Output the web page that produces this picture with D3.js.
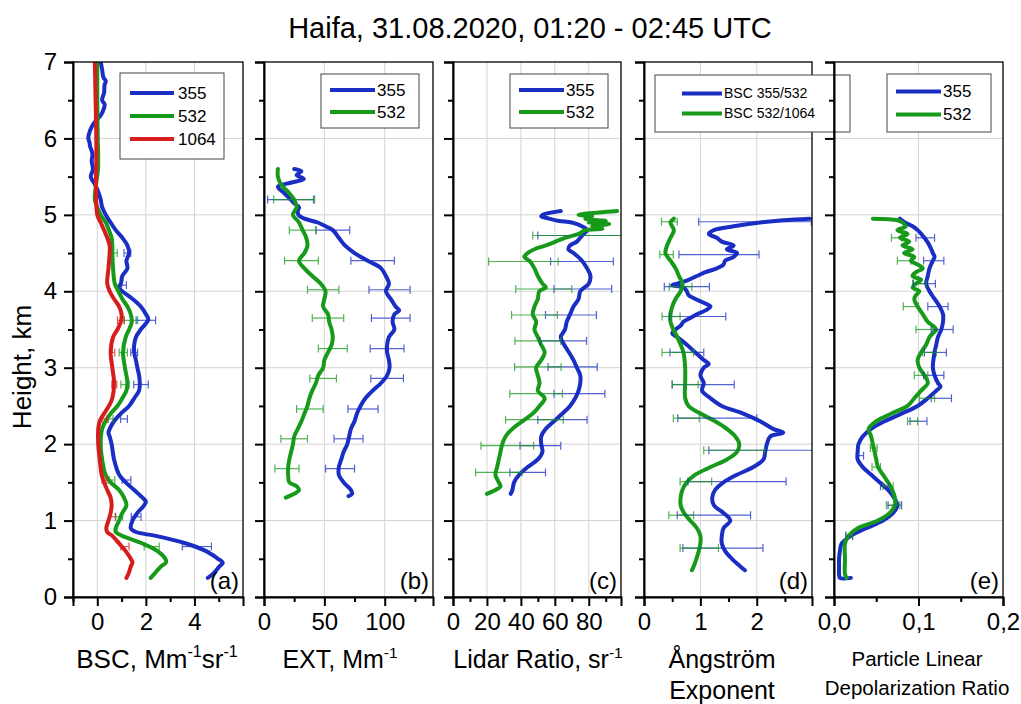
<!DOCTYPE html>
<html lang="en">
<head>
<meta charset="UTF-8" />
<title>Haifa lidar profiles</title>
<script src="https://cdn.jsdelivr.net/npm/d3@7"></script>
<style>
  body { margin: 0; background: #fff; }
  text { font-family: "Liberation Sans", Arial, sans-serif; fill: #000; }
</style>
</head>
<body>
<svg id="chart" width="1021" height="704"></svg>
<script>
// ---- profiles: [height km, value] ----
const bsc355 = [[7.0,0.14],[6.9,0.2],[6.8,0.25],[6.75,0.35],[6.7,0.3],[6.6,0.28],[6.5,0.2],[6.45,0.3],[6.4,0.28],[6.3,0.14],[6.2,-0.14],[6.1,-0.3],[6.0,-0.37],[5.95,-0.32],[5.9,-0.3],[5.8,-0.2],[5.7,-0.23],[5.6,-0.18],[5.5,-0.27],[5.45,-0.2],[5.4,-0.1],[5.3,0.04],[5.2,0.14],[5.1,0.2],[5.0,0.35],[4.9,0.55],[4.8,0.76],[4.7,1.03],[4.6,1.24],[4.5,1.31],[4.4,1.2],[4.3,1.24],[4.2,1.03],[4.1,0.97],[4.05,0.87],[4.0,1.03],[3.9,1.45],[3.8,1.79],[3.7,2.0],[3.63,2.1],[3.5,1.79],[3.4,1.59],[3.3,1.52],[3.2,1.52],[3.1,1.59],[3.0,1.65],[2.9,1.72],[2.8,1.75],[2.7,1.72],[2.6,1.52],[2.5,1.31],[2.4,0.97],[2.3,0.69],[2.2,0.51],[2.15,0.46],[2.1,0.51],[2.0,0.59],[1.8,0.69],[1.6,0.9],[1.5,1.17],[1.4,1.52],[1.3,1.86],[1.25,2.0],[1.2,1.93],[1.1,1.65],[1.0,1.45],[0.9,1.38],[0.85,1.59],[0.8,2.41],[0.7,3.66],[0.6,4.48],[0.5,4.97],[0.45,5.17],[0.4,5.03],[0.3,4.76],[0.25,4.55]];
const bsc532 = [[7.0,0.0],[6.5,0.0],[6.0,0.02],[5.6,0.03],[5.4,-0.05],[5.2,-0.1],[5.1,0.0],[5.0,0.14],[4.9,0.35],[4.8,0.48],[4.7,0.59],[4.6,0.62],[4.5,0.62],[4.3,0.65],[4.1,0.72],[4.0,0.87],[3.9,1.03],[3.8,1.24],[3.7,1.38],[3.6,1.42],[3.5,1.31],[3.4,1.17],[3.2,1.06],[3.0,1.14],[2.8,1.24],[2.7,1.2],[2.6,1.03],[2.5,0.83],[2.4,0.55],[2.3,0.34],[2.2,0.2],[2.0,0.14],[1.8,0.2],[1.6,0.34],[1.5,0.55],[1.4,0.9],[1.3,1.1],[1.2,1.2],[1.1,1.03],[1.0,0.9],[0.9,0.76],[0.85,0.76],[0.8,1.03],[0.7,1.86],[0.6,2.48],[0.5,2.8],[0.45,2.83],[0.4,2.62],[0.3,2.34],[0.25,2.2]];
const bsc1064 = [[7.0,-0.1],[6.0,-0.04],[5.0,0.0],[4.9,0.14],[4.8,0.28],[4.7,0.41],[4.6,0.51],[4.5,0.51],[4.3,0.46],[4.1,0.41],[4.0,0.51],[3.9,0.69],[3.8,0.9],[3.7,1.0],[3.6,0.97],[3.5,0.83],[3.4,0.65],[3.2,0.55],[3.0,0.62],[2.8,0.69],[2.6,0.62],[2.5,0.48],[2.4,0.28],[2.3,0.1],[2.2,0.04],[2.0,0.04],[1.8,0.1],[1.6,0.18],[1.5,0.28],[1.4,0.41],[1.3,0.55],[1.2,0.59],[1.1,0.55],[1.0,0.46],[0.9,0.37],[0.85,0.41],[0.8,0.62],[0.7,0.9],[0.6,1.17],[0.5,1.38],[0.45,1.45],[0.4,1.38],[0.3,1.28],[0.25,1.2]];

const ext355 = [[5.6,25],[5.57,31],[5.52,27],[5.47,33],[5.42,22],[5.37,11.5],[5.3,15.6],[5.22,21],[5.15,25],[5.1,29],[5.05,28],[5.0,28.5],[4.95,33.5],[4.9,44.5],[4.85,51],[4.8,57],[4.7,62],[4.6,67],[4.5,75],[4.4,86],[4.3,97],[4.2,101],[4.1,103.5],[4.0,101],[3.9,105],[3.8,109],[3.75,112],[3.7,108],[3.6,106.5],[3.5,108],[3.4,103.5],[3.3,102],[3.2,102],[3.1,103.5],[3.0,104],[2.9,102],[2.8,97],[2.7,90],[2.6,84],[2.5,80],[2.4,77],[2.3,75],[2.2,72],[2.0,69],[1.9,66],[1.8,64],[1.7,62],[1.6,62],[1.5,66],[1.4,72],[1.35,73],[1.32,70]];
const ext532 = [[5.6,11.5],[5.5,11.5],[5.4,14],[5.3,20],[5.2,25],[5.1,27],[5.0,24],[4.9,29],[4.8,32],[4.7,35],[4.6,36],[4.5,33.5],[4.4,29],[4.3,33.5],[4.2,40],[4.1,47],[4.0,51],[3.9,50],[3.8,49],[3.7,53],[3.6,54],[3.5,56],[3.4,57],[3.3,56],[3.2,53],[3.1,50],[3.0,49],[2.9,45],[2.8,43],[2.7,40],[2.6,37.6],[2.5,36],[2.4,33.5],[2.3,31],[2.2,28],[2.1,25],[2.0,24],[1.9,22.5],[1.8,21],[1.7,20],[1.6,20],[1.5,21],[1.45,27],[1.4,29],[1.35,25],[1.3,18]];

const lr355 = [[5.05,63.5],[5.0,52.7],[4.98,52],[4.95,56.6],[4.92,62.5],[4.9,70],[4.85,76],[4.8,79],[4.75,77],[4.7,75],[4.65,73],[4.6,69],[4.55,68],[4.5,71],[4.4,76],[4.3,79],[4.2,81],[4.1,80],[4.0,75],[3.9,74],[3.8,71],[3.7,69],[3.6,67],[3.5,66],[3.4,63.5],[3.3,65.5],[3.2,68.4],[3.1,71],[3.0,73],[2.9,75],[2.8,75],[2.7,74],[2.6,72],[2.5,69],[2.4,64.5],[2.3,59.5],[2.2,54.7],[2.1,52],[2.0,52],[1.9,52.7],[1.8,50],[1.7,44],[1.6,39],[1.5,36],[1.4,35],[1.35,34]];
const lr532 = [[5.05,96.7],[5.03,86],[5.0,74],[4.98,82],[4.95,78],[4.92,90],[4.9,80],[4.88,92],[4.85,82],[4.82,88],[4.8,78],[4.75,74],[4.7,66],[4.65,60.5],[4.6,54.7],[4.55,48],[4.5,44],[4.45,42],[4.4,45],[4.3,48],[4.2,50],[4.1,52.7],[4.05,54.7],[4.0,50.8],[3.9,50],[3.8,48],[3.7,47],[3.6,49],[3.5,48],[3.4,50],[3.3,52],[3.2,54],[3.1,52],[3.0,49],[2.9,50],[2.8,51],[2.7,50],[2.6,54],[2.5,51],[2.4,47],[2.3,41],[2.2,35],[2.1,31],[2.0,29],[1.9,28],[1.8,27],[1.7,26],[1.6,25],[1.5,27],[1.45,28],[1.4,25],[1.35,20]];

const ae355 = [[4.95,2.94],[4.93,2.47],[4.9,2.06],[4.85,1.59],[4.8,1.24],[4.75,1.15],[4.7,1.29],[4.65,1.38],[4.6,1.59],[4.55,1.47],[4.5,1.65],[4.45,1.59],[4.4,1.44],[4.35,1.41],[4.3,1.29],[4.25,1.09],[4.2,0.94],[4.15,0.79],[4.1,0.59],[4.08,0.5],[4.05,0.7],[4.0,0.76],[3.95,0.79],[3.9,0.91],[3.85,1.06],[3.8,1.18],[3.75,1.09],[3.7,0.94],[3.65,0.82],[3.6,0.7],[3.55,0.65],[3.5,0.56],[3.45,0.5],[3.4,0.59],[3.3,0.76],[3.2,0.91],[3.1,1.06],[3.05,1.15],[3.0,1.06],[2.9,1.0],[2.8,1.06],[2.7,1.03],[2.6,1.18],[2.5,1.38],[2.4,1.76],[2.3,2.06],[2.2,2.29],[2.15,2.47],[2.1,2.24],[2.0,2.18],[1.9,2.15],[1.8,2.12],[1.7,1.94],[1.6,1.65],[1.5,1.41],[1.4,1.26],[1.3,1.21],[1.2,1.24],[1.1,1.41],[1.0,1.53],[0.9,1.41],[0.8,1.38],[0.7,1.38],[0.6,1.44],[0.5,1.56],[0.4,1.71],[0.35,1.79]];
const ae532 = [[4.95,0.53],[4.9,0.47],[4.8,0.53],[4.7,0.47],[4.6,0.41],[4.5,0.38],[4.4,0.47],[4.3,0.56],[4.2,0.62],[4.1,0.68],[4.0,0.65],[3.9,0.56],[3.8,0.5],[3.7,0.47],[3.6,0.47],[3.5,0.52],[3.4,0.59],[3.3,0.65],[3.2,0.7],[3.0,0.73],[2.8,0.73],[2.6,0.73],[2.5,0.79],[2.4,1.0],[2.3,1.26],[2.2,1.47],[2.1,1.62],[2.0,1.69],[1.9,1.65],[1.8,1.47],[1.7,1.18],[1.6,0.91],[1.5,0.76],[1.4,0.68],[1.3,0.65],[1.2,0.65],[1.1,0.71],[1.0,0.82],[0.9,0.94],[0.8,1.0],[0.7,1.0],[0.6,0.97],[0.5,0.93],[0.4,0.88],[0.35,0.85]];

const pldr355 = [[4.95,0.078],[4.9,0.084],[4.85,0.093],[4.8,0.099],[4.7,0.107],[4.6,0.113],[4.5,0.117],[4.45,0.119],[4.4,0.117],[4.3,0.113],[4.2,0.111],[4.1,0.109],[4.0,0.113],[3.9,0.119],[3.8,0.125],[3.7,0.129],[3.6,0.129],[3.5,0.127],[3.4,0.123],[3.3,0.121],[3.2,0.119],[3.0,0.117],[2.9,0.119],[2.8,0.123],[2.75,0.126],[2.7,0.121],[2.6,0.111],[2.5,0.099],[2.4,0.08],[2.3,0.06],[2.2,0.044],[2.1,0.034],[2.0,0.029],[1.9,0.028],[1.8,0.028],[1.7,0.034],[1.6,0.044],[1.5,0.054],[1.4,0.064],[1.3,0.071],[1.2,0.075],[1.1,0.07],[1.0,0.058],[0.9,0.038],[0.8,0.02],[0.7,0.009],[0.6,0.007],[0.5,0.006],[0.4,0.006],[0.3,0.006],[0.25,0.007],[0.25,0.02]];
const pldr532 = [[4.95,0.046],[4.93,0.075],[4.9,0.081],[4.85,0.085],[4.8,0.075],[4.75,0.087],[4.7,0.078],[4.65,0.089],[4.6,0.081],[4.55,0.093],[4.5,0.083],[4.45,0.095],[4.4,0.091],[4.35,0.099],[4.3,0.105],[4.25,0.097],[4.2,0.093],[4.15,0.103],[4.1,0.097],[4.05,0.093],[4.0,0.101],[3.95,0.097],[3.9,0.095],[3.8,0.099],[3.7,0.105],[3.6,0.111],[3.55,0.117],[3.5,0.121],[3.45,0.117],[3.4,0.113],[3.3,0.109],[3.2,0.103],[3.1,0.099],[3.0,0.101],[2.9,0.107],[2.8,0.111],[2.7,0.103],[2.6,0.095],[2.5,0.087],[2.4,0.068],[2.3,0.05],[2.2,0.041],[2.1,0.044],[2.0,0.046],[1.9,0.048],[1.8,0.05],[1.7,0.052],[1.6,0.058],[1.5,0.064],[1.4,0.069],[1.3,0.072],[1.2,0.072],[1.1,0.066],[1.0,0.052],[0.9,0.028],[0.8,0.017],[0.7,0.013],[0.5,0.013],[0.3,0.013],[0.25,0.015]];

// ---- error bars: [height km, value, half width] ----
const bscErr355 = [[4.5,1.24,0.14],[4.08,1.1,0.1],[3.62,2.0,0.4],[3.2,1.52,0.14],[2.78,1.8,0.3],[2.33,1.1,0.14],[1.53,1.2,0.18],[1.05,1.6,0.2],[0.66,4.1,0.6]];
const bscErr532 = [[4.5,0.72,0.1],[3.62,1.38,0.28],[3.2,1.07,0.17],[2.78,1.14,0.17],[2.33,0.55,0.1],[1.53,0.6,0.12],[1.05,0.9,0.14],[0.66,2.24,0.31]];
const bscErr1064 = [[3.62,0.97,0.14],[3.2,0.62,0.1],[2.78,0.7,0.1],[2.33,0.3,0.1],[1.53,0.3,0.1],[1.05,0.62,0.12],[0.66,1.14,0.17]];
const extErr355 = [[5.2,22,19],[4.8,57,14],[4.4,90,18],[4.02,104,17],[3.65,105,16],[3.25,102,14],[2.86,102,13.5],[2.46,82,12.5],[2.07,70,12],[1.68,63,12]];
const extErr532 = [[5.2,25,17],[4.8,32,11],[4.4,31,14],[4.02,49,13],[3.65,53,13],[3.25,57,12],[2.86,49,11],[2.46,38,11],[2.07,25,11],[1.68,19,10]];
const lrErr355 = [[4.73,75,25],[4.39,76,18.5],[4.03,76.5,17],[3.69,69.5,15],[3.35,65,13.7],[3.01,70.5,14.5],[2.66,74.5,15],[2.32,64.5,14.5],[1.98,51.5,12],[1.63,44,10.5]];
const lrErr532 = [[4.73,75,28],[4.39,41.5,20.5],[4.03,53.5,16.5],[3.69,48,13.5],[3.35,50,13.5],[3.01,50,13.7],[2.66,49,15.5],[2.32,48,17],[1.98,32,15.5],[1.63,27,13.7]];
const aeErr355 = [[4.91,1.97,1.0],[4.48,1.33,0.71],[4.06,0.76,0.4],[3.67,0.95,0.5],[3.2,0.76,0.3],[2.78,1.05,0.55],[2.34,1.3,0.7],[1.92,2.2,1.05],[1.51,1.65,0.87],[1.07,1.24,0.65],[0.64,1.4,0.71]];
const aeErr532 = [[4.91,0.45,0.14],[4.48,0.4,0.12],[4.06,0.65,0.2],[3.67,0.48,0.16],[3.2,0.6,0.28],[2.78,0.73,0.23],[2.34,0.75,0.23],[1.92,1.6,0.54],[1.51,0.92,0.28],[1.07,0.66,0.22],[0.64,0.98,0.34]];
const pldrErr355 = [[4.7,0.108,0.011],[4.4,0.118,0.012],[4.1,0.107,0.013],[3.8,0.123,0.012],[3.5,0.128,0.013],[3.2,0.12,0.013],[2.9,0.118,0.012],[2.6,0.127,0.012],[2.3,0.1,0.01],[1.85,0.031,0.004],[1.45,0.06,0.005],[1.2,0.072,0.008],[0.8,0.018,0.004]];
const pldrErr532 = [[4.7,0.074,0.006],[4.4,0.083,0.008],[4.1,0.101,0.008],[3.8,0.091,0.009],[3.5,0.107,0.01],[3.2,0.113,0.008],[2.9,0.103,0.008],[2.6,0.11,0.009],[2.3,0.093,0.006],[1.95,0.047,0.004],[1.7,0.05,0.005],[1.45,0.064,0.006],[1.2,0.07,0.008],[0.8,0.018,0.004]];

// ---- axis ticks ----
const heightTicks = [0, 1, 2, 3, 4, 5, 6, 7];
const heightMinor = [0.5, 1.5, 2.5, 3.5, 4.5, 5.5, 6.5];
const titleText = "Haifa, 31.08.2020, 01:20 - 02:45 UTC";

const blue = "#1a2ec4", green = "#179a1a", red = "#d61c1c";
const svg = d3.select("#chart");
const plotTop = 62, plotBottom = 597;
const y = d3.scaleLinear().domain([0, 7]).range([plotBottom, plotTop]);

const panels = [
  { key: "a", x0: 73, x1: 243, dom: [-1, 6], major: [0, 2, 4], minor: [-1, 1, 3, 5], fmt: d => d,
    series: [[bsc355, bscErr355, blue, "355"], [bsc532, bscErr532, green, "532"], [bsc1064, bscErr1064, red, "1064"]],
    legend: { x: 120, y: 73, w: 104, h: 86, lx: 10, lw: 44, tx: 58, dy: 23, fs: 17 } },
  { key: "b", x0: 264, x1: 433, dom: [0, 140], major: [0, 50, 100], minor: [25, 75, 125], fmt: d => d,
    series: [[ext355, extErr355, blue, "355"], [ext532, extErr532, green, "532"]],
    legend: { x: 321, y: 74, w: 98, h: 54, lx: 9, lw: 45, tx: 56, dy: 22, fs: 17 } },
  { key: "c", x0: 453, x1: 621, dom: [0, 99], major: [0, 20, 40, 60, 80], minor: [10, 30, 50, 70, 90], fmt: d => d,
    series: [[lr355, lrErr355, blue, "355"], [lr532, lrErr532, green, "532"]],
    legend: { x: 510, y: 74, w: 98, h: 54, lx: 9, lw: 45, tx: 56, dy: 22, fs: 17 } },
  { key: "d", x0: 644, x1: 812, dom: [0, 2.98], major: [0, 1, 2], minor: [0.5, 1.5, 2.5], fmt: d => d,
    series: [[ae355, aeErr355, blue, "BSC 355/532"], [ae532, aeErr532, green, "BSC 532/1064"]],
    legend: { x: 655, y: 75, w: 195, h: 57, lx: 27, lw: 40, tx: 69, dy: 20, fs: 14 } },
  { key: "e", x0: 834, x1: 1003, dom: [0, 0.2], major: [0, 0.1, 0.2], minor: [0.05, 0.15], fmt: d => d3.format(".1f")(d).replace(".", ","),
    series: [[pldr355, pldrErr355, blue, "355"], [pldr532, pldrErr532, green, "532"]],
    legend: { x: 887, y: 74, w: 104, h: 58, lx: 9, lw: 45, tx: 56, dy: 23, fs: 17 } }
];

svg.append("text").attr("x", 530).attr("y", 38).attr("text-anchor", "middle")
  .style("font-size", "29px").text(titleText);

panels.forEach((p, i) => {
  const x = d3.scaleLinear().domain(p.dom).range([p.x0, p.x1]);
  const g = svg.append("g").attr("class", "panel-" + p.key);
  const w = p.x1 - p.x0, h = plotBottom - plotTop;

  g.append("clipPath").attr("id", "clip-" + p.key)
    .append("rect").attr("x", p.x0).attr("y", plotTop).attr("width", w).attr("height", h);

  // grid
  g.selectAll(".vgrid").data(p.major.filter(v => x(v) > p.x0 + 1 && x(v) < p.x1 - 1)).enter()
    .append("line").attr("x1", d => x(d)).attr("x2", d => x(d)).attr("y1", plotTop).attr("y2", plotBottom)
    .attr("stroke", "#d4d4d4").attr("stroke-width", 1);
  g.selectAll(".hgrid").data(heightTicks.slice(1, -1)).enter()
    .append("line").attr("x1", p.x0).attr("x2", p.x1).attr("y1", d => y(d)).attr("y2", d => y(d))
    .attr("stroke", "#d4d4d4").attr("stroke-width", 1);

  const plot = g.append("g").attr("clip-path", `url(#clip-${p.key})`);
  const line = d3.line().x(d => x(d[1])).y(d => y(d[0])).curve(d3.curveCatmullRom.alpha(0.5));

  p.series.forEach(s => {
    plot.append("path").datum(s[0]).attr("d", line).attr("fill", "none")
      .attr("stroke", s[2]).attr("stroke-width", 4).attr("stroke-linejoin", "round").attr("stroke-linecap", "round");
  });
  p.series.forEach(s => {
    const eb = plot.append("g").attr("stroke", s[2]).attr("stroke-width", 1.2).attr("opacity", 0.75);
    s[1].forEach(e => {
      const yy = y(e[0]), xa = x(e[1] - e[2]), xb = x(e[1] + e[2]);
      eb.append("line").attr("x1", xa).attr("x2", xb).attr("y1", yy).attr("y2", yy);
      eb.append("line").attr("x1", xa).attr("x2", xa).attr("y1", yy - 4).attr("y2", yy + 4);
      eb.append("line").attr("x1", xb).attr("x2", xb).attr("y1", yy - 4).attr("y2", yy + 4);
    });
  });

  // frame
  g.append("rect").attr("x", p.x0).attr("y", plotTop).attr("width", w).attr("height", h)
    .attr("fill", "none").attr("stroke", "#000").attr("stroke-width", 1.3);

  // bottom axis
  const xa = g.append("g").attr("transform", `translate(0,${plotBottom})`)
    .call(d3.axisBottom(x).tickValues(p.major).tickSize(9).tickPadding(7).tickFormat(p.fmt));
  xa.select(".domain").attr("stroke-width", 2);
  xa.selectAll(".tick line").attr("stroke-width", 2);
  xa.selectAll("text").style("font-size", "24px").style("font-family", "'Liberation Sans', Arial, sans-serif");
  g.append("g").attr("transform", `translate(0,${plotBottom})`)
    .call(d3.axisBottom(x).tickValues(p.minor).tickSize(5).tickFormat(""))
    .call(a => a.select(".domain").remove())
    .selectAll(".tick line").attr("stroke-width", 2);

  // left axis
  const ya = g.append("g").attr("transform", `translate(${p.x0},0)`)
    .call(d3.axisLeft(y).tickValues(heightTicks).tickSize(9).tickPadding(7).tickFormat(i === 0 ? d => d : ""));
  ya.select(".domain").attr("stroke-width", 2);
  ya.selectAll(".tick line").attr("stroke-width", 2);
  ya.selectAll("text").style("font-size", "24px").style("font-family", "'Liberation Sans', Arial, sans-serif");
  g.append("g").attr("transform", `translate(${p.x0},0)`)
    .call(d3.axisLeft(y).tickValues(heightMinor).tickSize(5).tickFormat(""))
    .call(a => a.select(".domain").remove())
    .selectAll(".tick line").attr("stroke-width", 2);

  // panel letter
  g.append("text").attr("x", p.x1 - 4).attr("y", plotBottom - 8).attr("text-anchor", "end")
    .style("font-size", "24px").text(`(${p.key})`);

  // legend
  const L = p.legend;
  const lg = svg.append("g").attr("transform", `translate(${L.x},${L.y})`);
  lg.append("rect").attr("width", L.w).attr("height", L.h).attr("fill", "#fff")
    .attr("stroke", "#444").attr("stroke-width", 1);
  p.series.forEach((s, k) => {
    const ly = L.h / 2 - (p.series.length - 1) * L.dy / 2 + k * L.dy;
    lg.append("line").attr("x1", L.lx).attr("x2", L.lx + L.lw).attr("y1", ly).attr("y2", ly)
      .attr("stroke", s[2]).attr("stroke-width", 4);
    lg.append("text").attr("x", L.tx).attr("y", ly).attr("dy", "0.35em")
      .style("font-size", L.fs + "px").text(s[3]);
  });
});

// axis titles
function supLabel(x, yy, parts, size) {
  const t = svg.append("text").attr("x", x).attr("y", yy).attr("text-anchor", "middle").style("font-size", size + "px");
  parts.forEach(pt => {
    if (pt.sup) t.append("tspan").attr("dy", -size * 0.42).style("font-size", (size * 0.62) + "px").text(pt.t);
    else t.append("tspan").attr("dy", pt.back ? size * 0.42 : 0).text(pt.t);
  });
}
supLabel(157, 668, [{ t: "BSC, Mm" }, { t: "-1", sup: true }, { t: "sr", back: true }, { t: "-1", sup: true }], 26);
supLabel(340, 668, [{ t: "EXT, Mm" }, { t: "-1", sup: true }], 25);
supLabel(538, 668, [{ t: "Lidar Ratio, sr" }, { t: "-1", sup: true }], 25);
svg.append("text").attr("x", 722).attr("y", 668).attr("text-anchor", "middle").style("font-size", "25px").text("Ångström");
svg.append("text").attr("x", 722).attr("y", 699).attr("text-anchor", "middle").style("font-size", "25px").text("Exponent");
svg.append("text").attr("x", 917).attr("y", 666).attr("text-anchor", "middle").style("font-size", "20.5px").text("Particle Linear");
svg.append("text").attr("x", 917).attr("y", 695).attr("text-anchor", "middle").style("font-size", "20.5px").text("Depolarization Ratio");
svg.append("text").attr("transform", "translate(31,367) rotate(-90)").attr("text-anchor", "middle")
  .style("font-size", "26px").text("Height, km");
</script>
</body>
</html>
